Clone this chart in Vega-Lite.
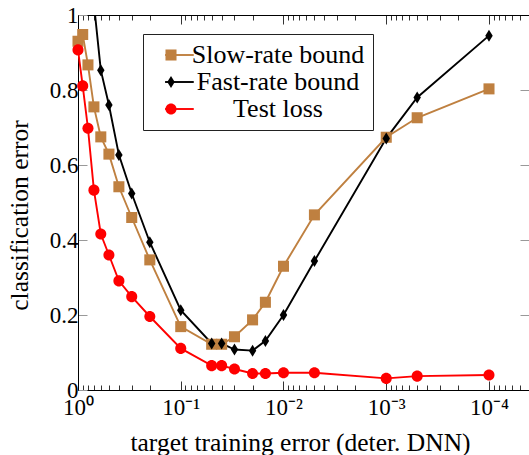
{
  "$schema": "https://vega.github.io/schema/vega-lite/v6.json",
  "autosize": "none",
  "padding": {"left": 78, "top": 15, "right": 0, "bottom": 65},
  "width": 451,
  "height": 375,
  "config": {
    "font": "Liberation Serif",
    "view": {"stroke": "black", "strokeWidth": 1},
    "axis": {"grid": false, "domainColor": "black", "labelColor": "black", "titleColor": "black", "titleFontWeight": "normal", "labelFont": "Liberation Serif", "titleFont": "Liberation Serif"},
    "legend": {
      "orient": "none",
      "title": null,
      "labelFont": "Liberation Serif",
      "labelFontSize": 26,
      "labelColor": "black",
      "labelLimit": 400,
      "labelAlign": "center",
      "labelOffset": 101,
      "rowPadding": 1,
      "symbolSize": 144,
      "symbolStrokeWidth": 1.9
    }
  },
  "data": {
    "values": [
      {"series": "Slow-rate bound", "x": 1, "y": 0.93},
      {"series": "Slow-rate bound", "x": 0.9, "y": 0.948},
      {"series": "Slow-rate bound", "x": 0.8, "y": 0.867},
      {"series": "Slow-rate bound", "x": 0.7, "y": 0.755},
      {"series": "Slow-rate bound", "x": 0.6, "y": 0.675},
      {"series": "Slow-rate bound", "x": 0.5, "y": 0.629},
      {"series": "Slow-rate bound", "x": 0.4, "y": 0.542},
      {"series": "Slow-rate bound", "x": 0.3, "y": 0.46},
      {"series": "Slow-rate bound", "x": 0.2, "y": 0.347},
      {"series": "Slow-rate bound", "x": 0.1, "y": 0.169},
      {"series": "Slow-rate bound", "x": 0.05, "y": 0.122},
      {"series": "Slow-rate bound", "x": 0.04, "y": 0.122},
      {"series": "Slow-rate bound", "x": 0.03, "y": 0.142},
      {"series": "Slow-rate bound", "x": 0.02, "y": 0.187},
      {"series": "Slow-rate bound", "x": 0.015, "y": 0.234},
      {"series": "Slow-rate bound", "x": 0.01, "y": 0.33},
      {"series": "Slow-rate bound", "x": 0.005, "y": 0.467},
      {"series": "Slow-rate bound", "x": 0.001, "y": 0.674},
      {"series": "Slow-rate bound", "x": 0.0005, "y": 0.726},
      {"series": "Slow-rate bound", "x": 0.0001, "y": 0.803},
      {"series": "Fast-rate bound", "x": 0.7, "y": 1.03},
      {"series": "Fast-rate bound", "x": 0.6, "y": 0.853},
      {"series": "Fast-rate bound", "x": 0.5, "y": 0.76},
      {"series": "Fast-rate bound", "x": 0.4, "y": 0.627},
      {"series": "Fast-rate bound", "x": 0.3, "y": 0.524},
      {"series": "Fast-rate bound", "x": 0.2, "y": 0.394},
      {"series": "Fast-rate bound", "x": 0.1, "y": 0.213},
      {"series": "Fast-rate bound", "x": 0.05, "y": 0.124},
      {"series": "Fast-rate bound", "x": 0.04, "y": 0.124},
      {"series": "Fast-rate bound", "x": 0.03, "y": 0.108},
      {"series": "Fast-rate bound", "x": 0.02, "y": 0.105},
      {"series": "Fast-rate bound", "x": 0.015, "y": 0.131},
      {"series": "Fast-rate bound", "x": 0.01, "y": 0.2},
      {"series": "Fast-rate bound", "x": 0.005, "y": 0.344},
      {"series": "Fast-rate bound", "x": 0.001, "y": 0.671},
      {"series": "Fast-rate bound", "x": 0.0005, "y": 0.78},
      {"series": "Fast-rate bound", "x": 0.0001, "y": 0.945},
      {"series": "Test loss", "x": 1, "y": 0.907},
      {"series": "Test loss", "x": 0.9, "y": 0.811},
      {"series": "Test loss", "x": 0.8, "y": 0.698},
      {"series": "Test loss", "x": 0.7, "y": 0.533},
      {"series": "Test loss", "x": 0.6, "y": 0.416},
      {"series": "Test loss", "x": 0.5, "y": 0.36},
      {"series": "Test loss", "x": 0.4, "y": 0.291},
      {"series": "Test loss", "x": 0.3, "y": 0.249},
      {"series": "Test loss", "x": 0.2, "y": 0.196},
      {"series": "Test loss", "x": 0.1, "y": 0.111},
      {"series": "Test loss", "x": 0.05, "y": 0.065},
      {"series": "Test loss", "x": 0.04, "y": 0.065},
      {"series": "Test loss", "x": 0.03, "y": 0.056},
      {"series": "Test loss", "x": 0.02, "y": 0.044},
      {"series": "Test loss", "x": 0.015, "y": 0.044},
      {"series": "Test loss", "x": 0.01, "y": 0.046},
      {"series": "Test loss", "x": 0.005, "y": 0.046},
      {"series": "Test loss", "x": 0.001, "y": 0.031},
      {"series": "Test loss", "x": 0.0005, "y": 0.037},
      {"series": "Test loss", "x": 0.0001, "y": 0.04}
    ]
  },
  "layer": [
    {
      "mark": {"type": "line", "strokeWidth": 1.9, "clip": true},
      "encoding": {
        "x": {
          "field": "x", "type": "quantitative",
          "scale": {"type": "log", "domain": [0.0000408, 1], "reverse": true, "nice": false},
          "axis": {
            "values": [1, 0.9, 0.8, 0.7, 0.6, 0.5, 0.4, 0.3, 0.2, 0.1, 0.09, 0.08, 0.07, 0.06, 0.05, 0.04, 0.03, 0.02, 0.01, 0.009, 0.008, 0.007, 0.006, 0.005, 0.004, 0.003, 0.002, 0.001, 0.0009, 0.0008, 0.0007, 0.0006, 0.0005, 0.0004, 0.0003, 0.0002, 0.0001, 0.00009, 0.00008, 0.00007, 0.00006, 0.00005],
            "labelExpr": "abs(datum.value - 1) < 1e-9 ? '10⁰' : abs(datum.value / 0.1 - 1) < 1e-6 ? '10⁻¹' : abs(datum.value / 0.01 - 1) < 1e-6 ? '10⁻²' : abs(datum.value / 0.001 - 1) < 1e-6 ? '10⁻³' : abs(datum.value / 0.0001 - 1) < 1e-6 ? '10⁻⁴' : ''",
            "tickSize": {"condition": {"test": "abs(log(datum.value) / LN10 - round(log(datum.value) / LN10)) < 0.001", "value": -9}, "value": -5},
            "tickColor": "#333",
            "labelFlush": false,
            "labelOverlap": false,
            "labelBaseline": "alphabetic",
            "labelPadding": 33,
            "labelFontSize": 23,
            "title": "target training error (deter. DNN)",
            "titleFontSize": 25.5,
            "titleX": 222,
            "titleY": 60,
            "titleBaseline": "alphabetic",
            "titleAlign": "center"
          }
        },
        "y": {
          "field": "y", "type": "quantitative",
          "scale": {"domain": [0, 1], "nice": false},
          "axis": {
            "values": [0, 0.2, 0.4, 0.6, 0.8, 1],
            "labelExpr": "datum.value == 0 ? '0' : datum.value == 1 ? '1' : format(datum.value, '.1f')",
            "tickSize": -9,
            "tickColor": "#999",
            "labelPadding": 9,
            "labelFontSize": 23,
            "labelFlush": false,
            "title": "classification error",
            "titleFontSize": 25.5,
            "titleAngle": -90,
            "titleX": -51,
            "titleY": 200,
            "titleBaseline": "alphabetic",
            "titleAlign": "center"
          }
        },
        "color": {
          "field": "series", "type": "nominal",
          "scale": {"domain": ["Slow-rate bound", "Fast-rate bound", "Test loss"], "range": ["#BF8040", "#000000", "#FF0000"]},
          "legend": {
            "legendX": 65,
            "legendY": 19,
            "padding": 8,
            "strokeColor": "#222",
            "fillColor": "white",
            "symbolType": "M0.18,0H4.96"
          }
        },
        "order": {"field": "x", "type": "quantitative"}
      }
    },
    {
      "transform": [{"filter": "datum.y <= 1"}],
      "mark": {"type": "point", "filled": true, "opacity": 1, "size": 144},
      "encoding": {
        "x": {"field": "x", "type": "quantitative", "axis": null},
        "y": {"field": "y", "type": "quantitative", "axis": null},
        "fill": {
          "field": "series", "type": "nominal",
          "scale": {"domain": ["Test loss", "Fast-rate bound", "Slow-rate bound"], "range": ["#FF0000", "#000000", "#BF8040"]},
          "legend": {
            "legendX": 80,
            "legendY": 27,
            "padding": 0,
            "values": ["Slow-rate bound", "Fast-rate bound", "Test loss"],
            "labelExpr": "''",
            "strokeColor": "transparent",
            "fillColor": "transparent"
          }
        },
        "shape": {
          "field": "series", "type": "nominal",
          "scale": {"domain": ["Test loss", "Fast-rate bound", "Slow-rate bound"], "range": ["M0.92,0A0.92,0.92 0 1,1 -0.92,0A0.92,0.92 0 1,1 0.92,0Z", "M0,-1L0.62,0L0,1L-0.62,0Z", "M-0.92,-0.92H0.92V0.92H-0.92Z"]}
        }
      }
    },
    {
      "mark": {"type": "point", "opacity": 0},
      "encoding": {
        "x": {
          "field": "x", "type": "quantitative",
          "axis": {
            "orient": "top",
            "values": [1, 0.9, 0.8, 0.7, 0.6, 0.5, 0.4, 0.3, 0.2, 0.1, 0.09, 0.08, 0.07, 0.06, 0.05, 0.04, 0.03, 0.02, 0.01, 0.009, 0.008, 0.007, 0.006, 0.005, 0.004, 0.003, 0.002, 0.001, 0.0009, 0.0008, 0.0007, 0.0006, 0.0005, 0.0004, 0.0003, 0.0002, 0.0001, 0.00009, 0.00008, 0.00007, 0.00006, 0.00005],
            "labels": false,
            "title": null,
            "tickSize": {"condition": {"test": "abs(log(datum.value) / LN10 - round(log(datum.value) / LN10)) < 0.001", "value": -9}, "value": -5},
            "tickColor": "#333"
          }
        },
        "y": {
          "field": "y", "type": "quantitative",
          "axis": {
            "orient": "right",
            "values": [0.2, 0.4, 0.6, 0.8],
            "labels": false,
            "title": null,
            "tickSize": -9,
            "tickColor": "#999"
          }
        }
      }
    }
  ],
  "resolve": {"axis": {"x": "independent", "y": "independent"}}
}
